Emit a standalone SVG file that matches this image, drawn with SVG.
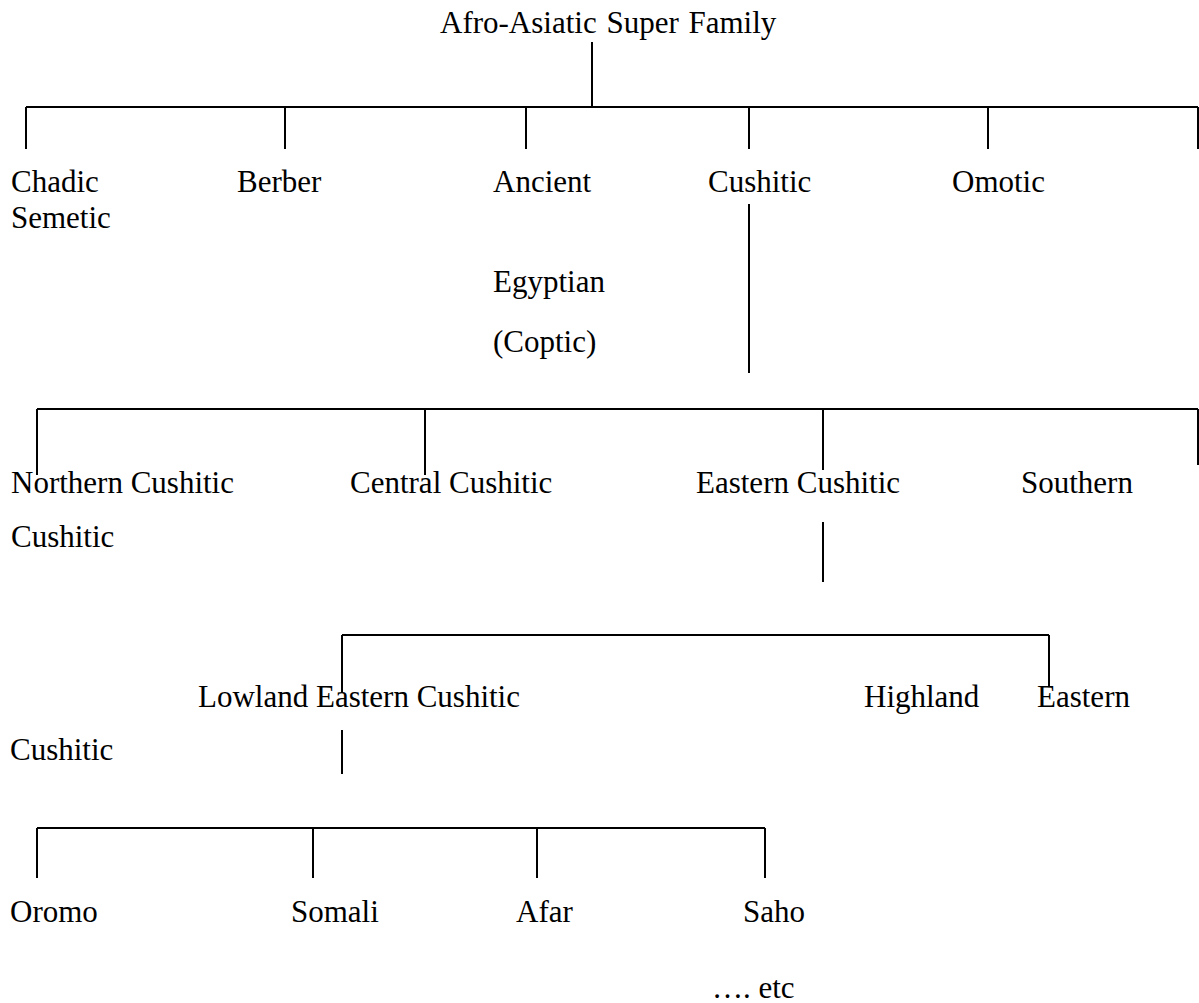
<svg xmlns="http://www.w3.org/2000/svg" width="1199" height="1003" viewBox="0 0 1199 1003">
  <style>
    text { font-family: "Liberation Serif", "Times New Roman", serif; font-size: 31px; fill: #000; }
    .ln { stroke: #000; stroke-width: 2; fill: none; stroke-linecap: butt; }
  </style>
  <rect width="1199" height="1003" fill="#fff"/>
  <g id="connectors" class="ln">
    <path class="ln" d="M592 42V107"/>
    <path class="ln" d="M26 107H1198"/>
    <path class="ln" d="M26 107V149M285 107V149M526 107V149M749 107V149M988 107V149M1198 107V149"/>
    <path class="ln" d="M749 204V373"/>
    <path class="ln" d="M37 409H1198"/>
    <path class="ln" d="M37 409V475M425 409V475M823 409V470M1198 409V465"/>
    <path class="ln" d="M823 522V582"/>
    <path class="ln" d="M342 635H1049"/>
    <path class="ln" d="M342 635V692M1049 635V687"/>
    <path class="ln" d="M342 730V774"/>
    <path class="ln" d="M37 828H765"/>
    <path class="ln" d="M37 828V878M313 828V878M537 828V878M765 828V878"/>
  </g>
  <g id="node-afro-asiatic"><text x="440" y="33" word-spacing="2">Afro-Asiatic Super Family</text></g>
  <g id="node-chadic"><text x="11" y="192">Chadic</text><text x="11" y="228">Semetic</text></g>
  <g id="node-berber"><text x="237" y="192">Berber</text></g>
  <g id="node-ancient-egyptian"><text x="493" y="192">Ancient</text><text x="493" y="292">Egyptian</text><text x="493" y="352">(Coptic)</text></g>
  <g id="node-cushitic"><text x="708" y="192">Cushitic</text></g>
  <g id="node-omotic"><text x="952" y="192">Omotic</text></g>
  <g id="node-northern-cushitic"><text x="11" y="493">Northern Cushitic</text><text x="11" y="547">Cushitic</text></g>
  <g id="node-central-cushitic"><text x="350" y="493">Central Cushitic</text></g>
  <g id="node-eastern-cushitic"><text x="696" y="493">Eastern Cushitic</text></g>
  <g id="node-southern"><text x="1021" y="493">Southern</text></g>
  <g id="node-lowland-eastern-cushitic"><text x="198" y="707">Lowland Eastern Cushitic</text><text x="10" y="760">Cushitic</text></g>
  <g id="node-highland-eastern"><text x="864" y="707">Highland</text><text x="1037" y="707">Eastern</text></g>
  <g id="node-oromo"><text x="10" y="922">Oromo</text></g>
  <g id="node-somali"><text x="291" y="922">Somali</text></g>
  <g id="node-afar"><text x="516" y="922">Afar</text></g>
  <g id="node-saho"><text x="743" y="922">Saho</text><text x="712" y="998">…. etc</text></g>
</svg>
